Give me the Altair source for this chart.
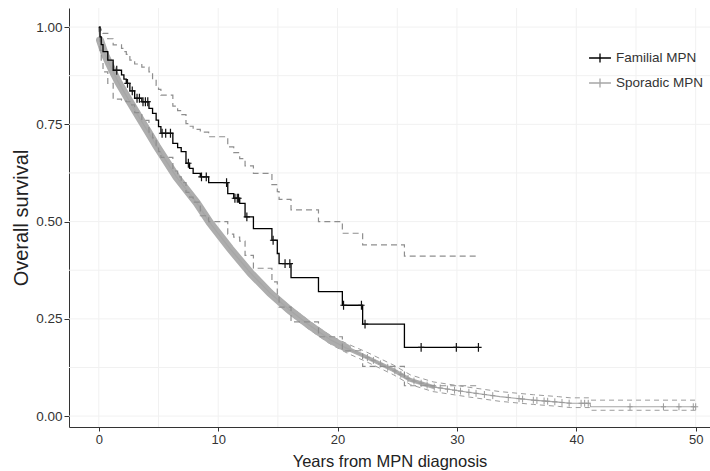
import altair as alt
import pandas as pd
import numpy as np

# ---------------- data ----------------
fam_time = [0, 0.1, 0.2, 0.35, 0.75, 1.2, 1.9, 2.1, 2.3, 2.6,
            3.0, 3.6, 4.2, 4.5, 4.8, 5.0, 5.2, 6.2, 6.6, 6.9,
            7.3, 7.6, 7.9, 8.5, 9.2, 10.8, 11.3, 11.8, 12.25, 12.95,
            14.5, 14.95, 15.1, 16.1, 18.4, 20.4, 22.1, 25.6]
fam_surv = [1.0, 0.975, 0.955, 0.937, 0.915, 0.889, 0.877, 0.866, 0.855, 0.836,
            0.817, 0.808, 0.791, 0.778, 0.761, 0.744, 0.727, 0.701, 0.690, 0.680,
            0.650, 0.637, 0.624, 0.615, 0.600, 0.572, 0.560, 0.547, 0.512, 0.482,
            0.452, 0.418, 0.392, 0.356, 0.320, 0.285, 0.2365, 0.1765]
fam_upper = [1.0, 0.995, 0.99, 0.984, 0.97, 0.954, 0.945, 0.937, 0.93, 0.915,
             0.905, 0.897, 0.885, 0.865, 0.85, 0.84, 0.825, 0.797, 0.785, 0.775,
             0.752, 0.745, 0.737, 0.73, 0.718, 0.692, 0.677, 0.662, 0.643, 0.624,
             0.595, 0.577, 0.557, 0.53, 0.50, 0.47, 0.44, 0.411]
fam_lower = [1.0, 0.94, 0.91, 0.885, 0.855, 0.815, 0.812, 0.81, 0.808, 0.80,
             0.78, 0.76, 0.73, 0.715, 0.695, 0.68, 0.665, 0.63, 0.615, 0.60,
             0.575, 0.563, 0.55, 0.515, 0.50, 0.468, 0.46, 0.45, 0.413, 0.38,
             0.345, 0.31, 0.28, 0.242, 0.204, 0.168, 0.128, 0.078]
fam_end = 31.8
fam_censor = [1.5, 2.4, 2.8, 3.2, 3.4, 3.7, 3.9, 4.1, 5.3, 5.6, 6.0, 7.5, 8.6, 9.0,
              10.7, 11.4, 11.6, 11.7, 12.4, 14.6, 15.6, 16.0, 20.5, 22.0, 22.3,
              27.0, 29.95, 31.8]

spo_time = [0, 0.1, 0.5, 1.07, 1.62, 2.46, 3.3, 4.14, 4.84, 6.5,
            8.2, 9.3, 11.0, 12.7, 14.35, 16.0, 17.7, 19.4, 20.8, 22.4,
            24.7, 26.1, 28.0, 30.8, 33.6, 36.4, 38.5, 39.5, 41.15, 41.2,
            50.0]
spo_surv = [1.0, 0.966, 0.93, 0.893, 0.859, 0.815, 0.772, 0.73, 0.694, 0.615,
            0.548, 0.497, 0.43, 0.368, 0.316, 0.272, 0.232, 0.196, 0.174, 0.152,
            0.118, 0.093, 0.075, 0.062, 0.05, 0.041, 0.036, 0.033, 0.033, 0.024,
            0.024]
spo_upper = [1.0, 0.97, 0.935, 0.898, 0.865, 0.821, 0.778, 0.737, 0.701, 0.623,
             0.557, 0.506, 0.44, 0.378, 0.326, 0.283, 0.243, 0.207, 0.186, 0.165,
             0.131, 0.106, 0.088, 0.075, 0.063, 0.055, 0.05, 0.047, 0.047, 0.041,
             0.041]
spo_lower = [1.0, 0.962, 0.925, 0.888, 0.853, 0.809, 0.766, 0.723, 0.687, 0.607,
             0.539, 0.488, 0.42, 0.358, 0.306, 0.261, 0.221, 0.185, 0.162, 0.14,
             0.106, 0.081, 0.063, 0.05, 0.038, 0.03, 0.025, 0.022, 0.022, 0.015,
             0.015]
spo_censor = [22.5, 23.0, 23.6, 24.2, 24.8, 25.3, 25.9, 26.4, 27.0, 27.5, 28.1, 28.6,
              29.2, 29.8, 30.3, 31.0, 31.6, 32.3, 33.0, 34.3, 35.2, 35.5, 36.4, 36.7,
              37.3, 37.6, 38.2, 38.8, 39.4, 40.4, 40.7, 41.0, 44.5, 47.3, 48.6, 49.8, 50.0]

groups = ["Familial MPN", "Sporadic MPN"]
x_ticks = [0, 10, 20, 30, 40, 50]
y_ticks = [0.0, 0.25, 0.5, 0.75, 1.0]
x_grid = [0, 5, 10, 15, 20, 25, 30, 35, 40, 45, 50]
y_grid = [0.0, 0.125, 0.25, 0.375, 0.5, 0.625, 0.75, 0.875, 1.0]

# ---------------- tables ----------------
fam = pd.DataFrame({"t": fam_time + [fam_end],
                    "s": fam_surv + [fam_surv[-1]],
                    "up": fam_upper + [fam_upper[-1]],
                    "lo": fam_lower + [fam_lower[-1]]})
fam["group"] = groups[0]

def step_lookup(times, vals, c):
    idx = np.searchsorted(np.array(times), c, side="right") - 1
    return vals[max(idx, 0)]

fam_c = pd.DataFrame({"t": fam_censor,
                      "s": [step_lookup(fam_time, fam_surv, c) for c in fam_censor]})

spo = pd.DataFrame({"t": spo_time, "s": spo_surv, "up": spo_upper, "lo": spo_lower})
spo["group"] = groups[1]
spo_c = pd.DataFrame({"t": spo_censor,
                      "s": np.interp(spo_censor, spo_time, spo_surv)})

band1 = spo[(spo.t > 0) & (spo.t <= 20.8)]
band2 = spo[(spo.t >= 20.8) & (spo.t <= 28.0)]

# ---------------- scales / axes ----------------
FONT = "Liberation Sans"
xs = alt.Scale(domain=[-2.5, 51.2], nice=False, zero=False)
ys = alt.Scale(domain=[-0.028, 1.049], nice=False, zero=False)
x_axis = alt.Axis(values=x_ticks, title="Years from MPN diagnosis", grid=False,
                  labelFontSize=13, titleFontSize=16.5, labelColor="#333333",
                  titleColor="#222222", titleFontWeight="normal", tickSize=4,
                  labelPadding=2, titlePadding=7, domainColor="#333333", tickColor="#333333",
                  labelFont=FONT, titleFont=FONT)
y_axis = alt.Axis(values=y_ticks, format=".2f", title="Overall survival", grid=False,
                  labelFontSize=13.5, titleFontSize=20, labelColor="#333333",
                  titleColor="#222222", titleFontWeight="normal", tickSize=5,
                  labelPadding=2, titlePadding=4, domainColor="#333333", tickColor="#333333",
                  labelFont=FONT, titleFont=FONT)

color_scale = alt.Scale(domain=groups, range=["#000000", "#a6a6a6"])
legend = alt.Legend(title=None, orient="none", legendX=519, legendY=38,
                    symbolType="M-1,0L1,0M0,-0.4L0,0.4", symbolSize=480,
                    symbolStrokeWidth=1.3, labelFontSize=13.5, labelColor="#333333",
                    labelFont=FONT, rowPadding=6, labelOffset=4)

cross = "M-0.8,0L0.8,0M0,-1.1L0,1.1"

# grid
gx = alt.Chart(pd.DataFrame({"g": x_grid})).mark_rule(color="#f1f1f1", strokeWidth=1).encode(
    x=alt.X("g:Q", scale=xs, axis=x_axis))
gy = alt.Chart(pd.DataFrame({"g": y_grid})).mark_rule(color="#f1f1f1", strokeWidth=1).encode(
    y=alt.Y("g:Q", scale=ys, axis=y_axis))

# sporadic CIs
spo_up = alt.Chart(spo).mark_line(color="#9c9c9c", strokeWidth=1, strokeDash=[5, 4]).encode(
    x=alt.X("t:Q", scale=xs), y=alt.Y("up:Q", scale=ys))
spo_lo = alt.Chart(spo).mark_line(color="#9c9c9c", strokeWidth=1, strokeDash=[5, 4]).encode(
    x=alt.X("t:Q", scale=xs), y=alt.Y("lo:Q", scale=ys))

# familial CIs
fam_up = alt.Chart(fam).mark_line(color="#8e8e8e", strokeWidth=1.2, strokeDash=[6, 4],
                                  interpolate="step-after").encode(
    x=alt.X("t:Q", scale=xs), y=alt.Y("up:Q", scale=ys))
fam_lo = alt.Chart(fam).mark_line(color="#8e8e8e", strokeWidth=1.2, strokeDash=[6, 4],
                                  interpolate="step-after").encode(
    x=alt.X("t:Q", scale=xs), y=alt.Y("lo:Q", scale=ys))

# sporadic thick band (dense censoring)
b1 = alt.Chart(band1).mark_line(color="#adadad", strokeWidth=8, strokeCap="round").encode(
    x=alt.X("t:Q", scale=xs), y=alt.Y("s:Q", scale=ys))
b2 = alt.Chart(band2).mark_line(color="#adadad", strokeWidth=4, strokeCap="round").encode(
    x=alt.X("t:Q", scale=xs), y=alt.Y("s:Q", scale=ys))

spo_line = alt.Chart(spo).mark_line(strokeWidth=1.2).encode(
    x=alt.X("t:Q", scale=xs), y=alt.Y("s:Q", scale=ys),
    color=alt.Color("group:N", scale=color_scale, legend=legend))
spo_marks = alt.Chart(spo_c).mark_point(shape=cross, size=40, filled=False,
                                        color="#9a9a9a", strokeWidth=1, opacity=1).encode(
    x=alt.X("t:Q", scale=xs), y=alt.Y("s:Q", scale=ys))

fam_line = alt.Chart(fam).mark_line(strokeWidth=1.3, interpolate="step-after").encode(
    x=alt.X("t:Q", scale=xs), y=alt.Y("s:Q", scale=ys),
    color=alt.Color("group:N", scale=color_scale, legend=legend))
fam_marks = alt.Chart(fam_c).mark_point(shape=cross, size=64, filled=False,
                                        color="#111111", strokeWidth=1.2, opacity=1).encode(
    x=alt.X("t:Q", scale=xs), y=alt.Y("s:Q", scale=ys))

chart = alt.layer(gx, gy, spo_up, spo_lo, b1, b2, spo_line, spo_marks,
                  fam_up, fam_lo, fam_line, fam_marks).properties(
    width=641, height=419,
    autosize=alt.AutoSizeParams(type="none"),
    padding={"left": 69, "top": 8, "right": 0, "bottom": 44},
    background="white",
).configure_view(stroke=None)

chart.save("out.html", embed_options={"renderer": "svg", "actions": False})
